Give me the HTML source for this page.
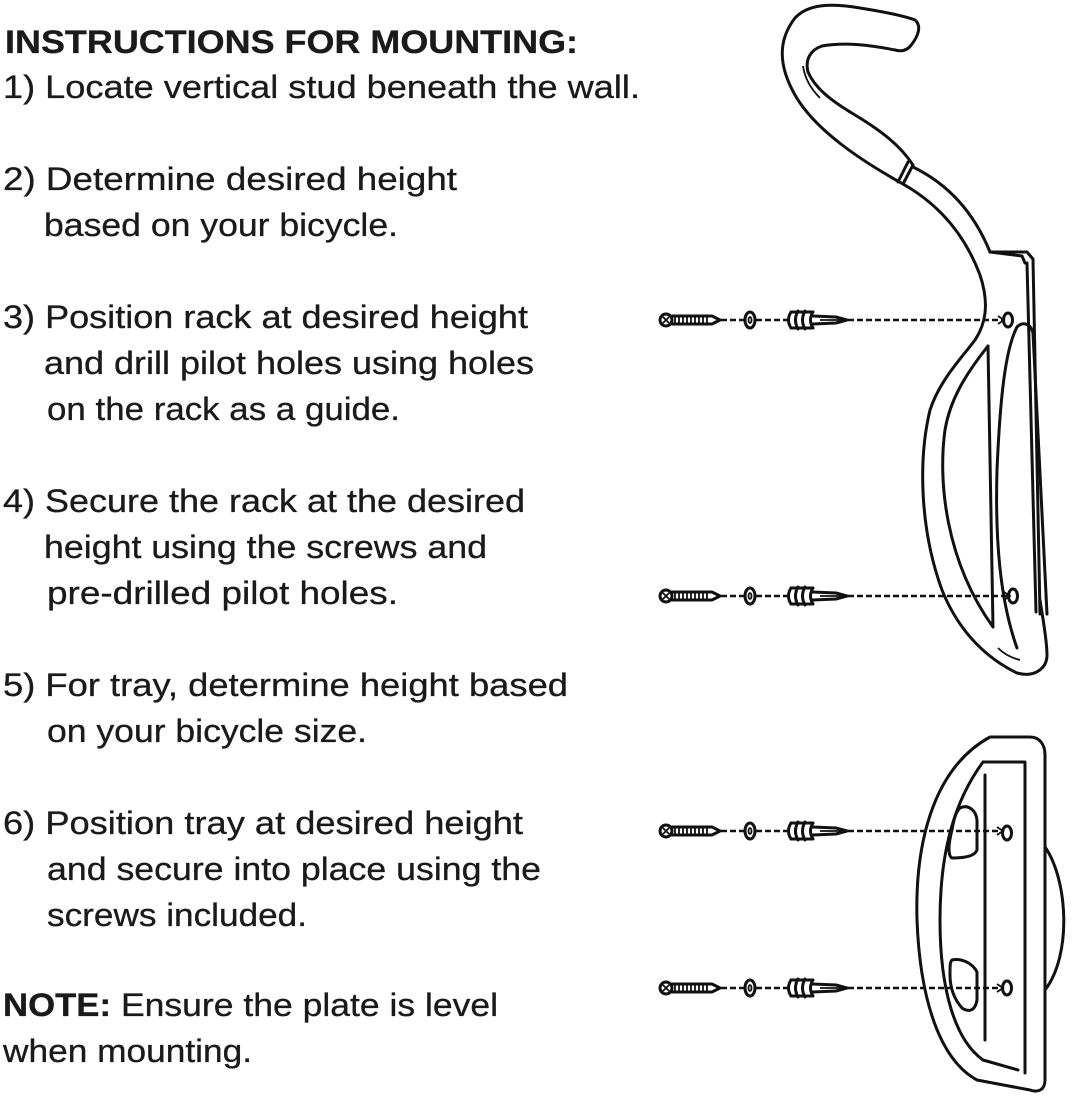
<!DOCTYPE html>
<html><head><meta charset="utf-8"><style>
html,body{margin:0;padding:0;background:#fff;}
svg{display:block;}
text{font-family:"Liberation Sans",sans-serif;fill:#1a1a1a;font-size:32px;stroke:#1a1a1a;stroke-width:0.3;}
.b{font-weight:bold;}
.l{fill:none;stroke:#111;stroke-width:3;stroke-linejoin:round;stroke-linecap:round;}
.t{fill:none;stroke:#111;stroke-width:1.8;}
.d{fill:none;stroke:#111;stroke-width:2.4;stroke-dasharray:6 3;}
</style></head><body>
<svg width="1072" height="1098" viewBox="0 0 1072 1098" xmlns="http://www.w3.org/2000/svg">
<text class="b" x="5" y="53" font-size="30" textLength="573" lengthAdjust="spacingAndGlyphs">INSTRUCTIONS FOR MOUNTING:</text>
<text x="3" y="98" textLength="637" lengthAdjust="spacingAndGlyphs">1)  Locate vertical stud beneath the wall.</text>
<text x="3" y="190" textLength="454" lengthAdjust="spacingAndGlyphs">2) Determine desired height</text>
<text x="44" y="236" textLength="354" lengthAdjust="spacingAndGlyphs">based on your bicycle.</text>
<text x="3" y="328" textLength="525" lengthAdjust="spacingAndGlyphs">3) Position rack at desired height</text>
<text x="44" y="374" textLength="490" lengthAdjust="spacingAndGlyphs">and drill pilot holes using holes</text>
<text x="47" y="420" textLength="353" lengthAdjust="spacingAndGlyphs">on the rack as a guide.</text>
<text x="3" y="512" textLength="522" lengthAdjust="spacingAndGlyphs">4) Secure the rack at the desired</text>
<text x="44" y="558" textLength="443" lengthAdjust="spacingAndGlyphs">height using the screws and</text>
<text x="47" y="604" textLength="351" lengthAdjust="spacingAndGlyphs">pre-drilled pilot holes.</text>
<text x="3" y="696" textLength="565" lengthAdjust="spacingAndGlyphs">5) For tray, determine height based</text>
<text x="47" y="742" textLength="320" lengthAdjust="spacingAndGlyphs">on your bicycle size.</text>
<text x="3" y="834" textLength="520" lengthAdjust="spacingAndGlyphs">6) Position tray at desired height</text>
<text x="47" y="880" textLength="494" lengthAdjust="spacingAndGlyphs">and secure into place using the</text>
<text x="47" y="926" textLength="260" lengthAdjust="spacingAndGlyphs">screws included.</text>
<text class="b" x="3" y="1016" textLength="108" lengthAdjust="spacingAndGlyphs">NOTE:</text>
<text x="121" y="1016" textLength="377" lengthAdjust="spacingAndGlyphs">Ensure the plate is level</text>
<text x="3" y="1062" textLength="249" lengthAdjust="spacingAndGlyphs">when mounting.</text>

<defs>
<g id="hw">
  <ellipse cx="666" cy="0" rx="6" ry="6" class="l" stroke-width="2.2"/>
  <path class="t" d="M663 -3 L669 3 M669 -3 L663 3"/>
  <path class="l" stroke-width="2.2" d="M672 -4 L712 -4 L720 0 L712 4 L672 4"/>
  <path class="t" stroke-width="1.3" d="M675 -4V4M679 -4V4M683 -4V4M687 -4V4M691 -4V4M695 -4V4M699 -4V4M703 -4V4M707 -4V4"/>
  <path class="d" d="M721 0 H744"/>
  <ellipse cx="750" cy="0" rx="5" ry="8" class="l" stroke-width="2.2"/>
  <ellipse cx="750" cy="0" rx="1.5" ry="3" class="t" stroke-width="1"/>
  <path class="d" d="M756 0 H787"/>
  <path class="l" stroke-width="2.2" d="M791 -8 Q786 0 791 8 M798 -9 Q793 0 798 9 M805 -9 Q800 0 805 9 M813 -8 Q808 0 813 8 M791 -8 H813 M791 8 H813 M813 -4 L836 -3 L847 0 L836 3 L813 4"/>
  <path class="t" stroke-width="1" d="M820 0 H842"/>
</g>
</defs>

<g>
  <use href="#hw" y="320"/>
  <path class="d" d="M848 320 H1002"/>
  <path class="t" d="M998 316 L1004 320 L998 324"/>
  <use href="#hw" y="596"/>
  <path class="d" d="M848 596 H1008"/>
  <path class="t" d="M1004 592 L1010 596 L1004 600"/>

  <path class="l" d="M903 184 C860 160 815 130 795 95 C778 65 778 40 795 18 C808 4 830 3 860 8 C885 12 905 16 915 20 C922 26 918 36 912 44 C908 50 902 52 895 50 C870 45 845 42 822 46 C810 50 805 60 808 72 C815 88 830 100 855 115 C880 130 900 145 913 165"/>
  <path class="l" d="M903 184 L913 165 M898 182 L908 162"/>
  <path class="t" d="M803 66 C805 80 812 90 820 98"/>
  <path class="l" d="M913 167 C950 185 975 215 990 252 L1027 252 L1033 259 L1040 614"/>
  <path class="l" d="M1027 263 L1036 612"/>
  <path class="l" d="M990 252 L1022 256 L1025 263"/>
  <path class="l" d="M903 184 C940 205 965 235 980 275 C990 305 985 325 975 340 C960 360 940 380 930 410 C918 460 920 530 942 590 C960 635 990 660 1017 673 C1035 678 1047 668 1047 655 C1047 640 1043 620 1040 600"/>
  <path class="l" d="M1017 327 C1022 322 1030 322 1033 333 L1047 614 M1017 327 C1005 350 1000 400 997 470 C995 540 1000 600 1017 648"/>
  <path class="l" d="M988 346 L993 627 M988 346 C965 375 950 400 945 430 C938 480 945 560 993 627"/>
  <path class="t" d="M998 648 C1005 655 1012 658 1020 660"/>
  <ellipse cx="1008" cy="320" rx="4.5" ry="7" class="l" stroke-width="2.2" fill="#fff"/>
  <ellipse cx="1013" cy="596" rx="4.5" ry="7" class="l" stroke-width="2.2" fill="#fff"/>
</g>

<g>
  <use href="#hw" y="831"/>
  <path class="d" d="M848 831 H1001"/>
  <path class="t" d="M997 827 L1003 831 L997 835"/>
  <use href="#hw" y="988"/>
  <path class="d" d="M848 988 H1001"/>
  <path class="t" d="M997 984 L1003 988 L997 992"/>

  <path class="l" d="M1045 847 C1068 880 1072 955 1045 990"/>
  <path class="l" d="M990 737 L1030 737 C1040 737 1045 745 1045 755 L1045 1080 C1045 1090 1038 1093 1030 1090 L977 1080 C940 1060 920 1000 917 920 C915 850 930 770 990 737 Z"/>
  <path class="l" d="M983 762 L1025 762 L1025 1073 M1018 1070 L983 1060 C955 1040 940 990 940 920 C940 850 955 800 983 762"/>
  <path class="l" d="M985 775 L985 1040"/>
  <path class="l" d="M960 808 C968 804 976 810 977 820 L977 850 C975 856 965 858 952 858 C948 856 948 845 952 830 C954 818 956 812 960 808 Z"/>
  <path class="l" d="M952 960 C960 958 972 962 977 972 L977 1000 C975 1012 968 1012 962 1008 C955 1000 950 990 950 975 C950 965 950 962 952 960 Z"/>
  <ellipse cx="1007" cy="833" rx="4.5" ry="7" class="l" stroke-width="2.2" fill="#fff"/>
  <ellipse cx="1007" cy="988" rx="4.5" ry="7" class="l" stroke-width="2.2" fill="#fff"/>
</g>
</svg>
</body></html>
